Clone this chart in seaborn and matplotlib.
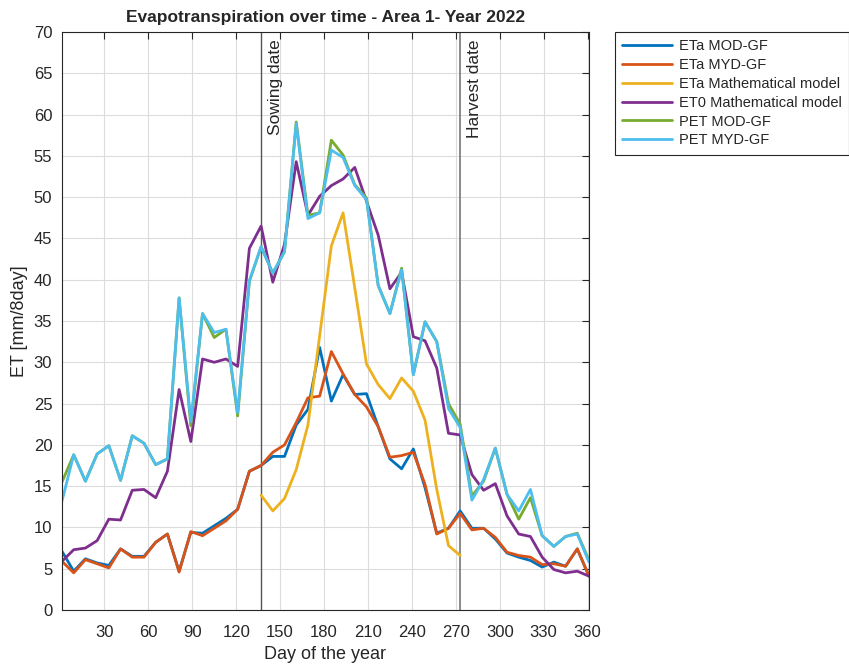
import numpy as np
import pandas as pd
import matplotlib
matplotlib.use("Agg")
import matplotlib.pyplot as plt
import seaborn as sns

days = list(range(1, 362, 8))  # 46 eight-day composites

eta_mod = [7.1, 4.7, 6.2, 5.7, 5.4, 7.4, 6.5, 6.5, 8.2, 9.2, 4.7, 9.4, 9.3, 10.2, 11.1, 12.2,
           16.8, 17.5, 18.6, 18.6, 22.4, 24.3, 31.8, 25.3, 28.5, 26.1, 26.2, 22.2, 18.3, 17.1,
           19.5, 14.8, 9.3, 9.9, 12.0, 9.9, 9.9, 8.6, 6.9, 6.4, 6.0, 5.2, 5.8, 5.3, 7.4, 4.1]
eta_myd = [5.9, 4.5, 6.1, 5.6, 5.1, 7.4, 6.4, 6.4, 8.2, 9.2, 4.6, 9.5, 9.0, 9.9, 10.8, 12.2,
           16.8, 17.5, 19.1, 20.0, 22.7, 25.7, 25.9, 31.3, 28.6, 26.1, 24.6, 22.2, 18.5, 18.7,
           19.1, 15.2, 9.2, 9.9, 11.7, 9.7, 9.9, 8.8, 7.0, 6.6, 6.4, 5.5, 5.6, 5.3, 7.4, 4.1]
eta_model_days = list(range(137, 274, 8))
eta_model = [13.9, 12.0, 13.5, 17.0, 22.4, 33.2, 44.1, 48.1, 39.0, 29.8, 27.3, 25.6, 28.1,
             26.5, 23.0, 14.6, 7.8, 6.6]
et0_model = [5.9, 7.3, 7.5, 8.4, 11.0, 10.9, 14.5, 14.6, 13.6, 16.8, 26.7, 20.4, 30.4, 30.0,
             30.4, 29.5, 43.8, 46.5, 39.7, 44.3, 54.3, 47.8, 50.1, 51.4, 52.2, 53.6, 49.5, 45.4,
             38.9, 40.9, 33.1, 32.6, 29.3, 21.4, 21.2, 16.4, 14.5, 15.3, 11.4, 9.2, 8.9, 6.4,
             4.9, 4.5, 4.7, 4.1]
pet_mod = [15.5, 18.8, 15.6, 18.9, 19.9, 15.7, 21.1, 20.2, 17.6, 18.3, 37.8, 22.3, 35.9, 33.0,
           34.0, 23.5, 39.8, 44.0, 40.8, 43.4, 59.1, 47.8, 48.1, 56.9, 55.1, 51.5, 49.9, 39.3,
           35.9, 41.4, 28.5, 34.9, 32.5, 25.0, 22.5, 13.8, 15.6, 19.6, 14.0, 11.0, 13.6, 9.0,
           7.7, 8.9, 9.3, 6.0]
pet_myd = [13.2, 18.8, 15.6, 18.9, 19.9, 15.7, 21.1, 20.2, 17.6, 18.3, 37.8, 22.8, 35.9, 33.6,
           34.0, 23.9, 39.9, 44.0, 40.8, 43.4, 58.9, 47.4, 48.1, 55.7, 54.8, 51.4, 49.7, 39.3,
           35.9, 41.2, 28.5, 34.9, 32.5, 24.4, 22.1, 13.3, 15.8, 19.6, 14.0, 12.0, 14.6, 9.0,
           7.7, 8.9, 9.2, 5.8]

series_names = ["ETa MOD-GF", "ETa MYD-GF", "ETa Mathematical model",
                "ET0 Mathematical model", "PET MOD-GF", "PET MYD-GF"]
colors = ["#0072BD", "#D95319", "#EDB120", "#7E2F8E", "#77AC30", "#4DBEEE"]

sowing_day = 137
harvest_day = 273
x_ticks = list(range(30, 361, 30))
y_ticks = list(range(0, 71, 5))

frames = []
for name, xs, ys in [(series_names[0], days, eta_mod), (series_names[1], days, eta_myd),
                     (series_names[2], eta_model_days, eta_model),
                     (series_names[3], days, et0_model), (series_names[4], days, pet_mod),
                     (series_names[5], days, pet_myd)]:
    frames.append(pd.DataFrame({"day": xs, "ET": ys, "series": name}))
df = pd.concat(frames, ignore_index=True)

sns.set_style("white")
plt.rcParams['font.family'] = ['Liberation Sans', 'DejaVu Sans']

fig = plt.figure(figsize=(8.49, 6.66), dpi=100)
ax = fig.add_axes([62/849, 1-610/666, (589-62)/849, (610-32)/666])

sns.lineplot(data=df, x="day", y="ET", hue="series", hue_order=series_names,
             palette=colors, linewidth=2.0, ax=ax, legend=True, sort=False)

ax.set_xlim(1, 361)
ax.set_ylim(0, 70)
ax.set_xticks(x_ticks)
ax.set_yticks(y_ticks)
ax.grid(True, color="#dcdcdc", linewidth=0.8)
ax.set_axisbelow(True)
for s in ax.spines.values():
    s.set_color("#262626")
    s.set_linewidth(0.8)
ax.tick_params(direction="in", top=True, right=True, length=5, width=0.8,
               colors="#262626", labelsize=12)
ax.tick_params(axis="x", pad=11)
ax.tick_params(axis="y", pad=7)

ax.axvline(sowing_day, color="#555555", linewidth=1.0, zorder=1.5)
ax.axvline(harvest_day, color="#777777", linewidth=1.2, zorder=1.5)
ax.text(sowing_day + 5, 69.1, "Sowing date", rotation=90, ha="left", va="top",
        fontsize=12.5, color="#262626")
ax.text(harvest_day + 5, 69.1, "Harvest date", rotation=90, ha="left", va="top",
        fontsize=12.5, color="#262626")

ax.set_xlabel("Day of the year", fontsize=13, color="#262626", labelpad=4)
ax.set_ylabel("ET [mm/8day]", fontsize=13, color="#262626", labelpad=4)
ax.set_title("Evapotranspiration over time - Area 1- Year 2022", fontsize=12.5,
             fontweight="bold", pad=7)

handles, labels = ax.get_legend_handles_labels()
leg = ax.legend(handles, labels, loc="upper left", bbox_to_anchor=(615/849, 1-32/666),
                bbox_transform=fig.transFigure, borderaxespad=0, fontsize=10.5,
                frameon=True, fancybox=False, edgecolor="#262626", framealpha=1,
                handlelength=3.4, labelspacing=0.33, borderpad=0.5, handletextpad=0.5,
                title=None)
leg.get_frame().set_linewidth(0.8)
for h in leg.get_lines():
    h.set_linewidth(2.0)

fig.savefig("out.png", dpi=100)
